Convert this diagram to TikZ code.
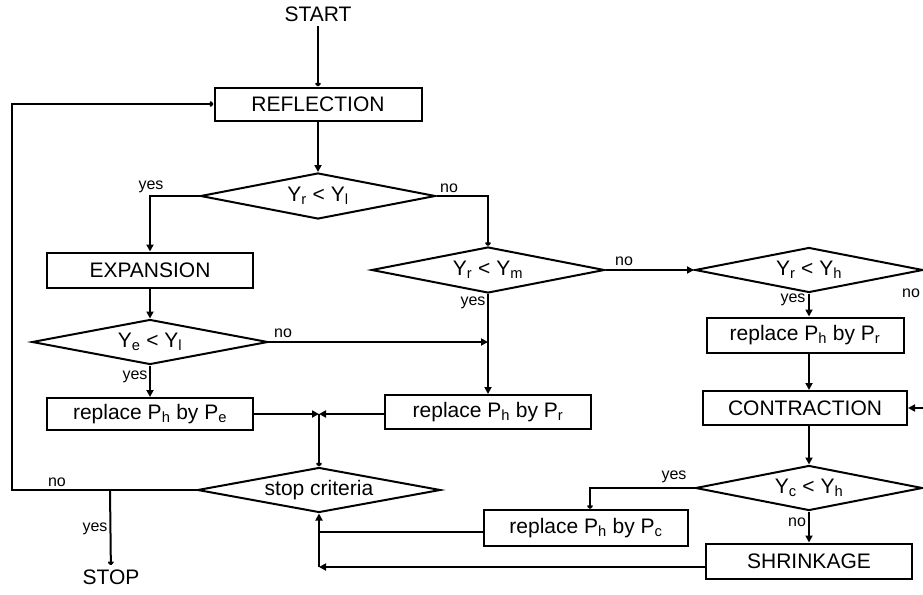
\documentclass[tikz,border=0pt]{standalone}
\usepackage{fontspec}
\setmainfont{Liberation Sans}
\usetikzlibrary{arrows.meta}
\usetikzlibrary{shapes.geometric}

\begin{document}
\begin{tikzpicture}[x=1pt,y=-1pt,line width=2pt,
  box/.style={draw,rectangle,inner sep=0pt,font=\fontsize{21}{24}\selectfont},
  test/.style={draw,diamond,aspect=5,inner sep=0pt,minimum height=46pt,font=\fontsize{21}{24}\selectfont},
  lbl/.style={font=\fontsize{16}{18}\selectfont,inner sep=0pt},
  arr/.style={-{Triangle[length=7pt,width=7pt]}},
  tip/.style={-{To[length=4pt,width=6pt]}}]
\useasboundingbox (0,0) rectangle (923,594);
\clip (0,0) rectangle (923,594);

% left and middle column
\node[font=\fontsize{21}{24}\selectfont] (start) at (318,14) {START};
\node[box,minimum width=207pt,minimum height=33pt] (refl) at (318,104) {REFLECTION};
\node[test,minimum width=235pt] (d1) at (318,196) {Y\textsubscript{r} < Y\textsubscript{l}};
\node[box,minimum width=206pt,minimum height=35pt] (exp) at (150,270) {EXPANSION};
\node[test,minimum width=236pt,minimum height=45pt] (d2) at (150,342) {Y\textsubscript{e} < Y\textsubscript{l}};
\node[box,minimum width=206pt,minimum height=32pt] (pe) at (150,414) {replace P\textsubscript{h} by P\textsubscript{e}};
\node[test,minimum width=233pt] (d3) at (488,270) {Y\textsubscript{r} < Y\textsubscript{m}};
\node[box,minimum width=206pt,minimum height=34pt] (pr) at (488,412) {replace P\textsubscript{h} by P\textsubscript{r}};
\node[test,minimum width=243pt,minimum height=45pt] (stop) at (319,490) {stop criteria};
\node[font=\fontsize{21}{24}\selectfont] (stoptxt) at (111,577) {STOP};

% right column
\node[test,minimum width=228pt,minimum height=45pt] (d4) at (809,270) {Y\textsubscript{r} < Y\textsubscript{h}};
\node[box,minimum width=197pt,minimum height=35pt] (pr2) at (805,335) {replace P\textsubscript{h} by P\textsubscript{r}};
\node[box,minimum width=204pt,minimum height=34pt] (con) at (805,408) {CONTRACTION};
\node[test,minimum width=227pt,minimum height=45pt] (d5) at (809,488) {Y\textsubscript{c} < Y\textsubscript{h}};
\node[box,minimum width=204pt,minimum height=36pt] (pc) at (586,528) {replace P\textsubscript{h} by P\textsubscript{c}};
\node[box,minimum width=206pt,minimum height=35pt] (shr) at (809,561) {SHRINKAGE};

\coordinate (j) at (319,414);
\coordinate (lp) at (12,490);
\coordinate (ys) at (110,490);
\coordinate (b1) at (319,532);
\coordinate (b2) at (319,567);
\coordinate (rr) at (940,270);

\draw[tip] (start) -- (refl);
\draw[arr] (refl) -- (d1);
\draw[arr] (d1.west) -| (exp.north);
\draw[tip] (d1.east) -| (d3.north);
\draw[arr] (exp) -- (d2);
\draw[arr] (d2) -- (pe);
\draw[arr] (d2.east) -- (d2.east -| d3.south);
\draw[arr] (d3) -- (pr);
\draw[arr] (d3.east) -- (d4.west);
\draw[arr] (d4.south) -- (d4.south |- pr2.north);
\draw[arr] (pr2.south -| d4.south) -- (con.north -| d4.south);
\draw[arr] (d4.east) -- (rr) |- (con.east);
\draw[arr] (con.south -| d5.north) -- (d5.north);
\draw[tip] (d5.west) -| ([xshift=4pt]pc.north);
\draw[arr] (d5) -- (shr);
\draw[arr] (pe.east) -- (j);
\draw[arr] (pr.west |- j) -- (j);
\draw[tip] (j) -- (stop.north);
\draw (pc.west |- b1) -- (b1);
\draw[arr] (shr.west |- b2) -- (b2);
\draw[arr] (b2) -- (stop.south);
\draw[tip] (stop.west) -- (lp) |- (refl.west);
\draw[tip] (ys) -- (stoptxt);

% branch labels
\node[lbl] (l1) at (151,187) {yes};
\node[lbl] (l2) at (449,188) {no};
\node[lbl] (l3) at (283,333) {no};
\node[lbl] (l4) at (135,377) {yes};
\node[lbl] (l5) at (473,303) {yes};
\node[lbl] (l6) at (624,261) {no};
\node[lbl] (l7) at (793,300) {yes};
\node[lbl] (l8) at (911,293) {no};
\node[lbl] (l9) at (674,477) {yes};
\node[lbl] (l10) at (797,522) {no};
\node[lbl] (l11) at (57,482) {no};
\node[lbl] (l12) at (95,529) {yes};
\end{tikzpicture}
\end{document}
